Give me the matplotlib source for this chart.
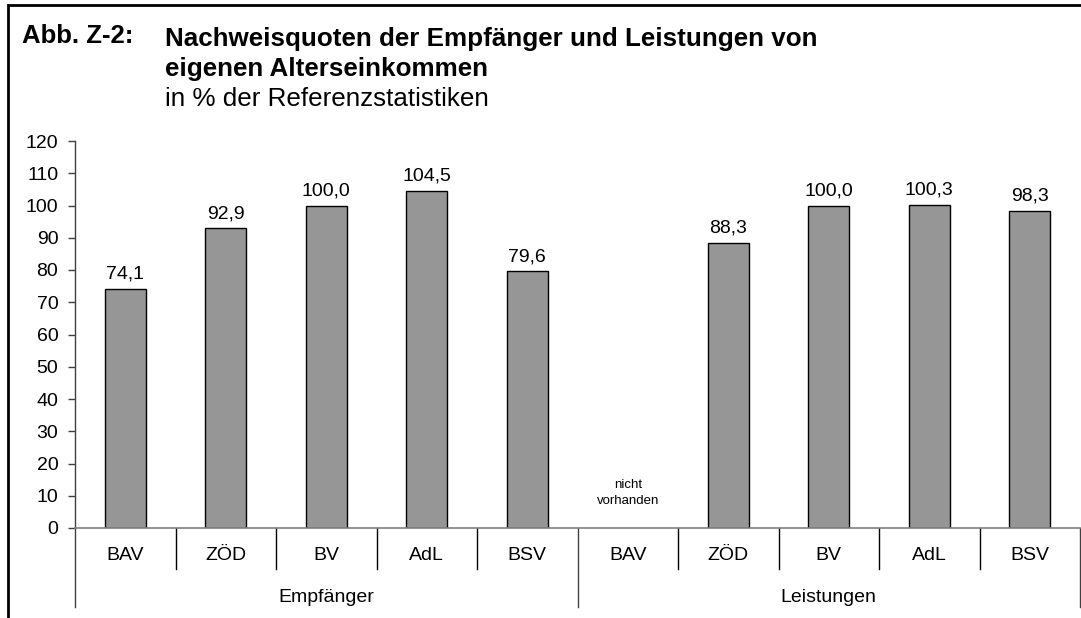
import matplotlib
matplotlib.use("Agg")
import matplotlib.pyplot as plt
from matplotlib.patches import Rectangle
import matplotlib.transforms as mtransforms

plt.rcParams['font.family'] = ['Liberation Sans', 'DejaVu Sans']

groups = ["Empfänger", "Leistungen"]
categories = ["BAV", "ZÖD", "BV", "AdL", "BSV"]
empfaenger = [74.1, 92.9, 100.0, 104.5, 79.6]
leistungen = [None, 88.3, 100.0, 100.3, 98.3]
yticks = list(range(0, 121, 10))
missing_label = "nicht\nvorhanden"

W, H = 1081, 618
fig = plt.figure(figsize=(W / 100, H / 100), dpi=100)

def fx(px):
    return px / W

def fy(py):
    return 1 - py / H

ax = fig.add_axes([fx(75), fy(528), fx(1080) - fx(75), fy(141) - fy(528)])

values = empfaenger + leistungen
labels = categories + categories
xs = [i + 0.5 for i in range(len(values))]
for x, v in zip(xs, values):
    if v is None:
        ax.text(x, 10.8, missing_label, ha='center', va='center', fontsize=9.5,
                color='black', linespacing=1.5)
        continue
    ax.bar(x, v, width=0.41, color='#969696', edgecolor='black', linewidth=1.0)
    ax.annotate(f"{v:.1f}".replace('.', ','), (x, v), xytext=(0, 4.5),
                textcoords='offset points', ha='center', va='bottom', fontsize=14)

ax.set_xlim(0, len(values))
ax.set_ylim(0, 120)
ax.set_yticks(yticks)
ax.set_yticklabels([str(t) for t in yticks], fontsize=14)
ax.tick_params(axis='y', direction='out', length=5, width=1, color='#404040', pad=7)
ax.set_xticks([])
for s in ['top', 'right']:
    ax.spines[s].set_visible(False)
ax.spines['left'].set_color('#404040')
ax.spines['bottom'].set_color('#808080')
ax.spines['left'].set_linewidth(1)
ax.spines['bottom'].set_linewidth(1.2)

trans = mtransforms.blended_transform_factory(ax.transData, ax.transAxes)
axh = 528 - 141
# category labels and separators
for i, lab in enumerate(labels):
    ax.text(i + 0.5, -28 / axh, lab, transform=trans, ha='center', va='center',
            fontsize=14, clip_on=False)
for i in range(1, len(values)):
    if i == len(categories):
        continue
    ax.plot([i, i], [0, -41 / axh], transform=trans, color='black', lw=1,
            clip_on=False)
# group labels and dividers
n = len(categories)
for g, name in enumerate(groups):
    ax.text(g * n + n / 2, -70 / axh, name, transform=trans, ha='center',
            va='center', fontsize=14, clip_on=False)
for b in range(len(groups) + 1):
    ax.plot([b * n, b * n], [0, -79 / axh], transform=trans, color='#404040',
            lw=1, clip_on=False)

# outer frame
fig.patches.append(Rectangle((fx(8), -0.5), 2, fy(5) + 0.5, transform=fig.transFigure,
                             fill=False, edgecolor='black', linewidth=2))

# titles
fig.text(fx(22), fy(43), "Abb. Z-2:", fontsize=18.5, fontweight='bold', va='baseline')
fig.text(fx(165), fy(46), "Nachweisquoten der Empfänger und Leistungen von",
         fontsize=18.7, fontweight='bold', va='baseline')
fig.text(fx(165), fy(76), "eigenen Alterseinkommen", fontsize=18.7,
         fontweight='bold', va='baseline')
fig.text(fx(165), fy(106), "in % der Referenzstatistiken", fontsize=18.7,
         va='baseline')

fig.savefig("out.png", dpi=100)
